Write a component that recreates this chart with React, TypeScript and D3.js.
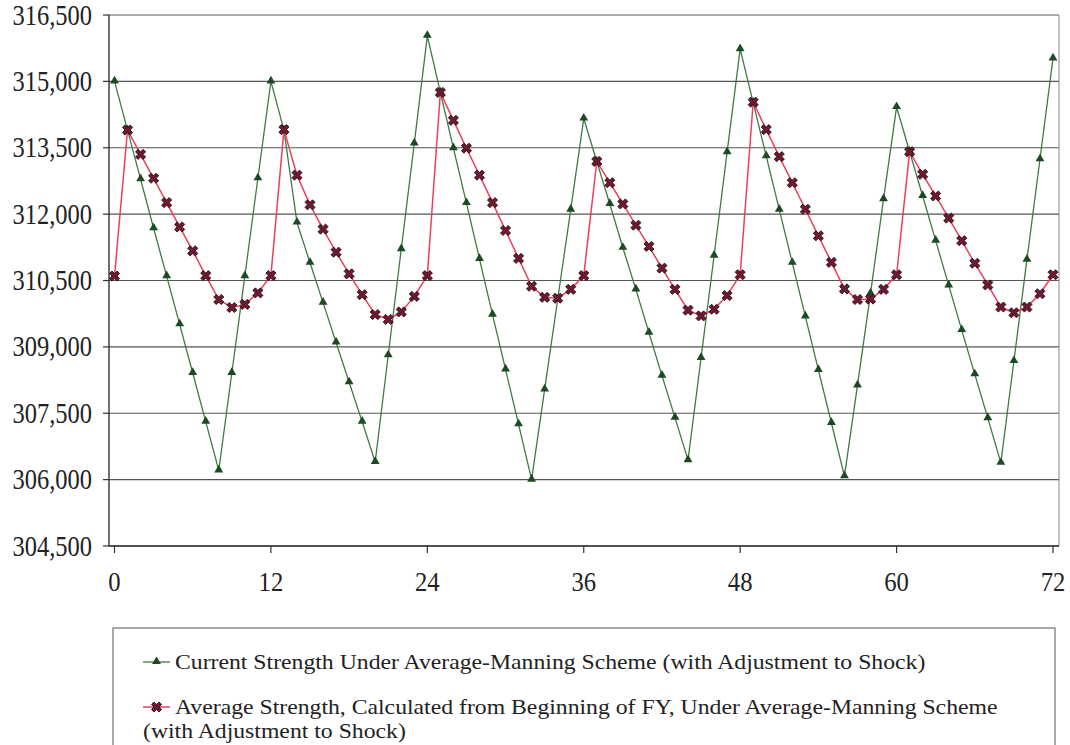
import React from "react";
import * as d3 from "d3";

// months 0..72
const months = d3.range(0, 73);

const currentStrength = [
  315000, 313900, 312790, 311680, 310600, 309510, 308410, 307310, 306210, 308410, 310600, 312810, 315000,
  313900, 311810, 310900, 310000, 309100, 308200, 307310, 306400, 308810, 311210, 313600, 316030,
  314750, 313490, 312250, 310990, 309730, 308490, 307250, 306000, 308040, 310070, 312100, 314160,
  313190, 312230, 311240, 310300, 309320, 308350, 307400, 306440, 308750, 311060, 313400, 315730,
  314520, 313310, 312100, 310900, 309690, 308480, 307280, 306080, 308130, 310210, 312340, 314420,
  313410, 312410, 311400, 310390, 309380, 308380, 307390, 306380, 308680, 310970, 313240, 315520,
];

const averageStrength = [
  310600, 313900, 313350, 312810, 312260, 311710, 311170, 310610, 310070, 309890, 309960, 310220, 310610,
  313910, 312880, 312210, 311660, 311140, 310650, 310180, 309730, 309620, 309790, 310140, 310610,
  314750, 314120, 313490, 312880, 312260, 311630, 311000, 310370, 310120, 310100, 310300, 310610,
  313190, 312710, 312230, 311750, 311270, 310780, 310300, 309830, 309700, 309850, 310160, 310630,
  314530, 313910, 313300, 312710, 312110, 311510, 310910, 310310, 310070, 310080, 310300, 310630,
  313410, 312900, 312410, 311910, 311400, 310890, 310400, 309900, 309770, 309900, 310200, 310630,
];

const yTicks = [304500, 306000, 307500, 309000, 310500, 312000, 313500, 315000, 316500];
const xTicks = [0, 12, 24, 36, 48, 60, 72];

const legendCurrent = ["Current Strength Under Average-Manning Scheme (with Adjustment to Shock)"];
const legendAverage = [
  "Average Strength, Calculated from Beginning of FY, Under Average-Manning Scheme",
  "(with Adjustment to Shock)",
];

const FONT = "'Liberation Serif', 'Times New Roman', serif";
const GREEN_LINE = "#3f7a45";
const GREEN_MARK = "#1d4a22";
const RED_LINE = "#e8405e";
const RED_MARK = "#6b1a30";

export default function App() {
  const width = 1070;
  const height = 745;
  const frame = { left: 109, right: 1059, top: 15, bottom: 546 };

  const x = d3.scaleLinear().domain([0, 72]).range([114.5, 1053]);
  const y = d3.scaleLinear().domain([304500, 316500]).range([frame.bottom, frame.top]);
  const fmt = d3.format(",");

  const line = d3
    .line<number>()
    .x((_, i) => x(months[i]))
    .y((d) => y(d));

  const tri = d3.symbol().type(d3.symbolTriangle).size(34)() as string;
  const cross = d3.symbol().type(d3.symbolCross).size(64)() as string;

  const triMark = (cx: number, cy: number, key?: React.Key) => (
    <path key={key} d={tri} transform={`translate(${cx},${cy - 0.5})`} fill={GREEN_MARK} />
  );
  const crossMark = (cx: number, cy: number, key?: React.Key) => (
    <path
      key={key}
      d={cross}
      transform={`translate(${cx},${cy}) rotate(45)`}
      fill={RED_MARK}
      stroke="#2a0810"
      strokeWidth={0.8}
    />
  );

  return (
    <svg
      width={width}
      height={height}
      style={{ position: "absolute", left: 0, top: 0, background: "#fff", display: "block" }}
      fontFamily={FONT}
    >
      {/* gridlines */}
      {yTicks.map((t) => (
        <line key={t} x1={frame.left} x2={frame.right} y1={y(t)} y2={y(t)} stroke="#555" strokeWidth={1.2} />
      ))}
      {/* frame */}
      <line x1={frame.right} x2={frame.right} y1={frame.top} y2={frame.bottom} stroke="#888" strokeWidth={1} />
      <line x1={frame.left} x2={frame.left} y1={frame.top} y2={frame.bottom} stroke="#333" strokeWidth={1.4} />
      <line x1={frame.left} x2={frame.right} y1={frame.bottom} y2={frame.bottom} stroke="#333" strokeWidth={1.4} />

      {/* y axis */}
      {yTicks.map((t) => (
        <g key={t}>
          <line x1={frame.left - 6} x2={frame.left} y1={y(t)} y2={y(t)} stroke="#333" strokeWidth={1.2} />
          <text
            transform={`translate(92,${y(t) + 9.5}) scale(0.86,1)`}
            textAnchor="end"
            fontSize={28.5}
            fill="#222"
          >
            {fmt(t)}
          </text>
        </g>
      ))}

      {/* x axis */}
      {xTicks.map((t) => (
        <g key={t}>
          <line x1={x(t)} x2={x(t)} y1={frame.bottom} y2={frame.bottom + 7} stroke="#333" strokeWidth={1.2} />
          <text
            transform={`translate(${x(t)},591) scale(0.88,1)`}
            textAnchor="middle"
            fontSize={28}
            fill="#222"
          >
            {t}
          </text>
        </g>
      ))}

      {/* series */}
      <path d={line(currentStrength) ?? ""} fill="none" stroke={GREEN_LINE} strokeWidth={1.3} />
      {currentStrength.map((v, i) => triMark(x(months[i]), y(v), i))}

      <path d={line(averageStrength) ?? ""} fill="none" stroke={RED_LINE} strokeWidth={1.5} />
      {averageStrength.map((v, i) => crossMark(x(months[i]), y(v), i))}

      {/* legend */}
      <rect x={113} y={628} width={942} height={140} fill="none" stroke="#555" strokeWidth={1} />
      <line x1={143} x2={170} y1={662} y2={662} stroke={GREEN_LINE} strokeWidth={1.3} />
      {triMark(156.5, 662)}
      {legendCurrent.map((s, i) => (
        <text key={i} transform={`translate(175,${669 + i * 24}) scale(1.13,1)`} fontSize={21} fill="#222">
          {s}
        </text>
      ))}
      <line x1={143} x2={170} y1={707} y2={707} stroke={RED_LINE} strokeWidth={1.5} />
      {crossMark(156.5, 707)}
      {legendAverage.map((s, i) => (
        <text
          key={i}
          transform={`translate(${i === 0 ? 175 : 143},${714 + i * 24}) scale(1.13,1)`}
          fontSize={21}
          fill="#222"
        >
          {s}
        </text>
      ))}
    </svg>
  );
}
